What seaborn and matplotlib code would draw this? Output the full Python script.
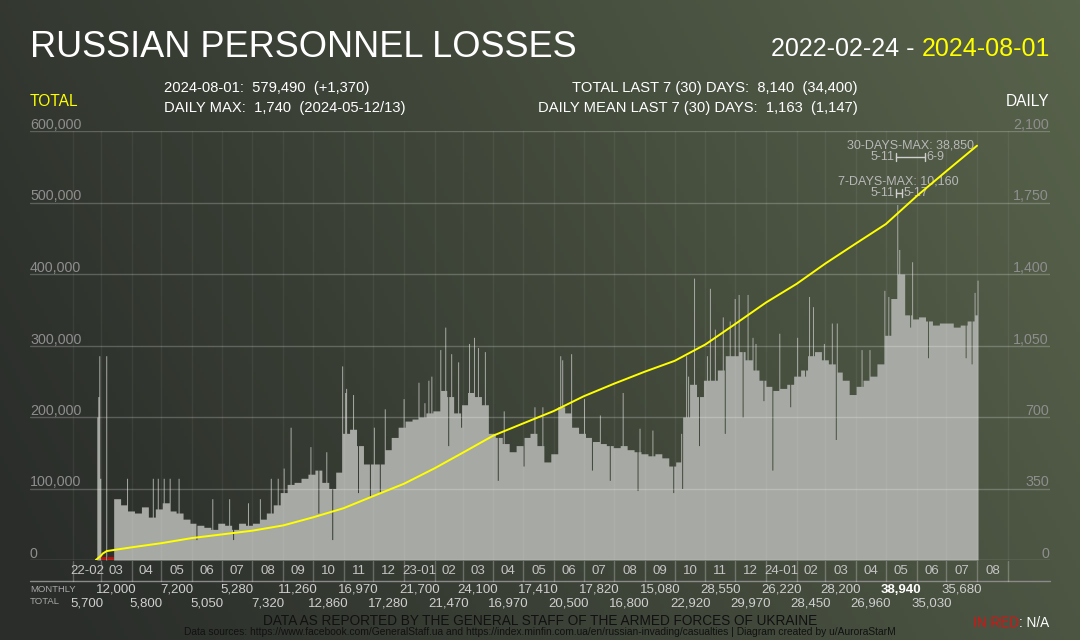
import numpy as np
import pandas as pd
import matplotlib
matplotlib.use('Agg')
import matplotlib.pyplot as plt
import matplotlib.dates as mdates
import matplotlib.transforms as mtransforms
import seaborn as sns

# ---- data ----
month_labels = ['22-02', '03', '04', '05', '06', '07', '08', '09', '10', '11', '12',
                '23-01', '02', '03', '04', '05', '06', '07', '08', '09', '10', '11', '12',
                '24-01', '02', '03', '04', '05', '06', '07', '08']
monthly_totals = [5700, 12000, 5800, 7200, 5050, 5280, 7320, 11260, 12860, 16970, 17280,
                  21700, 21470, 24100, 16970, 17410, 20500, 17820, 16800, 15080, 22920,
                  28550, 29970, 26220, 28450, 28200, 26960, 38940, 35030, 35680]

# first days, before regular daily reports
early_dates = ['2022-02-25', '2022-02-26', '2022-02-27', '2022-02-28', '2022-03-06']
early_values = [700, 800, 1000, 400, 1000]
na_dates = ['2022-03-01', '2022-03-02', '2022-03-03', '2022-03-04', '2022-03-05',
            '2022-03-07', '2022-03-08', '2022-03-09', '2022-03-10', '2022-03-11',
            '2022-03-12', '2022-03-13']

# typical daily losses, one value per week starting 2022-03-14
weekly_start = '2022-03-14'
weekly_daily = [
    300, 270, 240, 230,
    260, 210, 250, 280,
    240, 230, 200, 180,
    170, 160, 150, 180,
    170, 150, 180, 170,
    180, 200, 230, 270, 330,
    370, 380, 400, 420,
    440, 380, 350, 430,
    620, 640, 560, 470, 470,
    470, 540, 600, 650,
    680, 690, 700, 720, 730,
    830, 800, 720, 760,
    820, 800, 760, 620,
    600, 570, 530, 560,
    600, 620, 560, 480, 520,
    750, 720, 650, 620,
    600, 580, 570, 560, 550,
    560, 540, 530, 520,
    510, 520, 500, 460,
    480, 700, 860, 800, 880,
    880, 930, 1000, 1000,
    1020, 980, 930, 880,
    850, 830, 840, 860, 900,
    930, 1000, 1020, 980,
    960, 920, 880, 810,
    850, 880, 900, 960, 1100,
    1280, 1400, 1200, 1180,
    1190, 1170, 1150, 1160,
    1160, 1140, 1150, 1170, 1200,
]

# single days that stick out (up or down)
spike_days = [
    ('2022-03-27', 400), ('2022-04-22', 400), ('2022-04-27', 400), ('2022-05-03', 400),
    ('2022-05-09', 400), ('2022-05-18', 400), ('2022-06-05', 100), ('2022-06-21', 300),
    ('2022-07-08', 300), ('2022-07-12', 100), ('2022-07-27', 280), ('2022-08-08', 300),
    ('2022-08-19', 400), ('2022-08-26', 400), ('2022-09-01', 450), ('2022-09-08', 650),
    ('2022-09-28', 555), ('2022-10-06', 230), ('2022-10-14', 530), ('2022-10-20', 100),
    ('2022-10-30', 950), ('2022-11-02', 820), ('2022-11-03', 840), ('2022-11-10', 810),
    ('2022-11-15', 330), ('2022-11-27', 310), ('2022-12-01', 650), ('2022-12-07', 330),
    ('2022-12-12', 740), ('2022-12-31', 790), ('2023-01-15', 870), ('2023-01-21', 770),
    ('2023-01-25', 880), ('2023-01-28', 900), ('2023-02-06', 1030), ('2023-02-11', 1140),
    ('2023-02-14', 560), ('2023-02-17', 1010), ('2023-02-24', 970), ('2023-02-27', 650),
    ('2023-03-07', 1060), ('2023-03-12', 1090), ('2023-03-16', 1040), ('2023-03-23', 1020),
    ('2023-04-05', 390), ('2023-04-11', 730), ('2023-05-01', 460), ('2023-05-12', 750),
    ('2023-05-20', 750), ('2023-06-07', 1000), ('2023-06-09', 980), ('2023-06-18', 1010),
    ('2023-07-01', 790), ('2023-07-09', 440), ('2023-07-17', 710), ('2023-07-27', 390),
    ('2023-08-09', 820), ('2023-08-24', 340), ('2023-08-26', 645), ('2023-09-08', 636),
    ('2023-09-29', 330), ('2023-10-07', 620), ('2023-10-08', 350), ('2023-10-12', 1000),
    ('2023-10-14', 900), ('2023-10-20', 1380), ('2023-10-25', 560), ('2023-11-02', 1000),
    ('2023-11-05', 1330), ('2023-11-10', 1130), ('2023-11-18', 1190), ('2023-11-20', 620),
    ('2023-11-25', 1170), ('2023-11-30', 1280), ('2023-12-04', 1300), ('2023-12-08', 700),
    ('2023-12-13', 1300), ('2023-12-18', 1090), ('2023-12-21', 1060), ('2023-12-29', 780),
    ('2024-01-07', 440), ('2024-01-14', 1110), ('2024-01-25', 750), ('2024-02-01', 1090),
    ('2024-02-09', 900), ('2024-02-13', 1290), ('2024-02-17', 1240), ('2024-02-28', 1060),
    ('2024-03-07', 1160), ('2024-03-11', 590), ('2024-03-12', 1160), ('2024-04-06', 1030),
    ('2024-04-14', 1030), ('2024-04-29', 1320), ('2024-05-03', 1290), ('2024-05-12', 1740),
    ('2024-05-14', 1520), ('2024-05-25', 1140), ('2024-05-27', 1460), ('2024-06-12', 990),
    ('2024-07-20', 990), ('2024-07-26', 960), ('2024-07-29', 1310), ('2024-08-01', 1370),
]

# extra points of the running total in early March 2022
early_line_dates = ['2022-03-03', '2022-03-07']
early_line_totals = [9000, 12500]

# ---- build series ----
days = pd.date_range('2022-02-24', '2024-08-01', freq='D')
daily = pd.Series(0.0, index=days)
daily[pd.to_datetime(early_dates)] = early_values
wk_days = pd.date_range(weekly_start, '2024-08-01', freq='D')
daily[wk_days] = np.repeat(weekly_daily, 7)[:len(wk_days)]
for d, v in spike_days:
    daily[pd.Timestamp(d)] = v

month_starts = pd.date_range('2022-02-01', '2024-09-01', freq='MS')
ms_num = mdates.date2num(month_starts)

line_dates = pd.to_datetime(['2022-02-24'] + early_line_dates) \
    .append(month_starts[1:len(monthly_totals) + 1])
line_totals = [0] + early_line_totals + list(np.cumsum(monthly_totals))
line_df = pd.DataFrame({'x': mdates.date2num(line_dates), 'total': line_totals}).sort_values('x')

# ---- figure ----
sns.set_style('dark')
plt.rcParams['font.family'] = ['Liberation Sans', 'DejaVu Sans']

W, H = 1080, 640
fig = plt.figure(figsize=(W / 100, H / 100), dpi=100)

# background gradient
bg = fig.add_axes([0, 0, 1, 1], zorder=-10)
xx, yy = np.meshgrid(np.linspace(0, 1, 270), np.linspace(0, 1, 160))
t = np.clip(0.8 * xx + 0.25 * (1 - yy) - 0.05, 0, 1)
c0 = np.array([0x2a, 0x2d, 0x2a]) / 255
c1 = np.array([0x58, 0x63, 0x4b]) / 255
bg.imshow(c0 + (c1 - c0) * t[..., None], aspect='auto', extent=[0, 1, 0, 1])
bg.axis('off')

def fy(px):
    return 1 - px / H

ax = fig.add_axes([30 / W, fy(560), 1020 / W, 429 / H])
ax.set_facecolor('none')
for s in ax.spines.values():
    s.set_visible(False)
x0 = mdates.date2num(pd.Timestamp('2022-02-01')) - 43.4
x1 = mdates.date2num(pd.Timestamp('2024-08-01')) + 73.6
ax.set_xlim(x0, x1)
ax.set_ylim(0, 2100)
ax.set_xticks([])
ax.set_yticks([])
ax.grid(False)

# daily bars
xd = mdates.date2num(daily.index)
ax.fill_between(np.append(xd, xd[-1] + 1), np.append(daily.values, daily.values[-1]),
                step='post', color='#a7aaa4', lw=0, zorder=2)
ax.bar(mdates.date2num(pd.to_datetime(na_dates)), 14, width=1, align='edge',
       color='#b3130f', lw=0, zorder=3)

# grid
for v in range(0, 2101, 350):
    ax.axhline(v, color='white', alpha=0.35 if v == 0 else 0.22, lw=1, zorder=4)
for m in ms_num:
    ax.axvline(m, color='white', alpha=0.06, lw=1, zorder=3)

# running total
ax2 = ax.twinx()
ax2.set_ylim(0, 600000)
ax2.set_facecolor('none')
for s in ax2.spines.values():
    s.set_visible(False)
ax2.set_yticks([])
ax2.grid(False)
sns.lineplot(data=line_df, x='x', y='total', ax=ax2, color='#ffff00', lw=1.4,
             estimator=None, sort=False, zorder=6)
ax2.set_xlabel('')
ax2.set_ylabel('')
ax.set_xlim(x0, x1)

# y tick labels sitting on the grid lines
for v in range(0, 2101, 350):
    line_px = 560 - v / 2100 * 429
    fig.text(30 / W, fy(line_px - 2), f'{v * 2000 // 7:,}' if v else '0',
             color='#8e8e8e', fontsize=10.3, ha='left', va='baseline')
    fig.text(1049 / W, fy(line_px - 2), f'{v:,}', color='#8e8e8e', fontsize=10.3,
             ha='right', va='baseline')

# month band below the plot
trans = mtransforms.blended_transform_factory(ax.transData, fig.transFigure)
ax.plot([x0, x1], [fy(581)] * 2, transform=trans, color='#8a8a8a', lw=1, clip_on=False)
for m in ms_num:
    ax.plot([m, m], [fy(561), fy(581)], transform=trans, color='white', alpha=0.25,
            lw=1, clip_on=False)
for i, lab in enumerate(month_labels):
    mid = (ms_num[i] + ms_num[i + 1]) / 2
    ax.text(mid, fy(571), lab, transform=trans, ha='center', va='center',
            color='#c4c4c4', fontsize=9.5)
top_month = max(monthly_totals)
for i, v in enumerate(monthly_totals):
    mid = (ms_num[i] + ms_num[i + 1]) / 2
    is_max = v == top_month
    ax.text(mid, fy(590 if i % 2 else 603), f'{v:,}', transform=trans, ha='center',
            va='center', fontsize=9.5, color='white' if is_max else '#cfcfcf',
            fontweight='bold' if is_max else 'normal')
fig.text(30 / W, fy(590), 'MONTHLY', color='#a8a8a8', fontsize=6.8, va='center')
fig.text(30 / W, fy(602), 'TOTAL', color='#a8a8a8', fontsize=6.8, va='center')

# max brackets
def bracket(d_a, d_b, y_px, head, y_head):
    a = mdates.date2num(pd.Timestamp(d_a))
    b = mdates.date2num(pd.Timestamp(d_b))
    y = fy(y_px)
    dy = 4 / H
    ax.plot([a, b], [y, y], transform=trans, color='#d0d0d0', lw=1, clip_on=False, zorder=7)
    ax.plot([a, a], [y - dy, y + dy], transform=trans, color='#d0d0d0', lw=1, clip_on=False, zorder=7)
    ax.plot([b, b], [y - dy, y + dy], transform=trans, color='#d0d0d0', lw=1, clip_on=False, zorder=7)
    ax.text(a - 1.5, y, f'{pd.Timestamp(d_a).month}-{pd.Timestamp(d_a).day}', transform=trans,
            ha='right', va='center', color='#b8b8b8', fontsize=9)
    ax.text(b + 1.5, y, f'{pd.Timestamp(d_b).month}-{pd.Timestamp(d_b).day}', transform=trans,
            ha='left', va='center', color='#b8b8b8', fontsize=9)
    ax.text((a + b) / 2, fy(y_head), head, transform=trans, ha='center', va='center',
            color='#b8b8b8', fontsize=9)

bracket('2024-05-11', '2024-06-09', 156.7, '30-DAYS-MAX: 38,850', 145)
bracket('2024-05-11', '2024-05-17', 192.7, '7-DAYS-MAX: 10,160', 181.5)

# header
fig.text(30 / W, fy(57), 'RUSSIAN PERSONNEL LOSSES', color='white', fontsize=26, va='baseline')
renderer = fig.canvas.get_renderer()

def right_pair(x_px, y_px, left_txt, left_col, right_txt, right_col, size, gap=0):
    t2 = fig.text(x_px / W, fy(y_px), right_txt, color=right_col, fontsize=size,
                  ha='right', va='baseline')
    bb = t2.get_window_extent(renderer=renderer)
    fig.text((bb.x0 - gap) / W, fy(y_px), left_txt, color=left_col, fontsize=size,
             ha='right', va='baseline')

right_pair(1050, 56, '2022-02-24 -', 'white', '2024-08-01', '#ffff00', 18, gap=7)

fig.text(30 / W, fy(106), 'TOTAL', color='#ffff00', fontsize=11.2, va='baseline')
fig.text(1049 / W, fy(106), 'DAILY', color='white', fontsize=11.2, va='baseline', ha='right')
fig.text(164 / W, fy(92), '2024-08-01:  579,490  (+1,370)', color='white', fontsize=10.6,
         va='baseline')
fig.text(164 / W, fy(112), 'DAILY MAX:  1,740  (2024-05-12/13)', color='white',
         fontsize=10.6, va='baseline')
fig.text(858 / W, fy(92), 'TOTAL LAST 7 (30) DAYS:  8,140  (34,400)', color='white',
         fontsize=10.6, va='baseline', ha='right')
fig.text(858 / W, fy(112), 'DAILY MEAN LAST 7 (30) DAYS:  1,163  (1,147)', color='white',
         fontsize=10.6, va='baseline', ha='right')

# footer
fig.text(540 / W, fy(621), 'DATA AS REPORTED BY THE GENERAL STAFF OF THE ARMED FORCES OF UKRAINE',
         color='#111111', fontsize=9.8, ha='center', va='center')
fig.text(540 / W, fy(632),
         'Data sources: https://www.facebook.com/GeneralStaff.ua and '
         'https://index.minfin.com.ua/en/russian-invading/casualties | Diagram created by u/AuroraStarM',
         color='#111111', fontsize=7.4, ha='center', va='center')
right_pair(1049, 627, 'IN RED', '#e01010', ': N/A', 'white', 9.8)

fig.savefig('out.png', dpi=100)
